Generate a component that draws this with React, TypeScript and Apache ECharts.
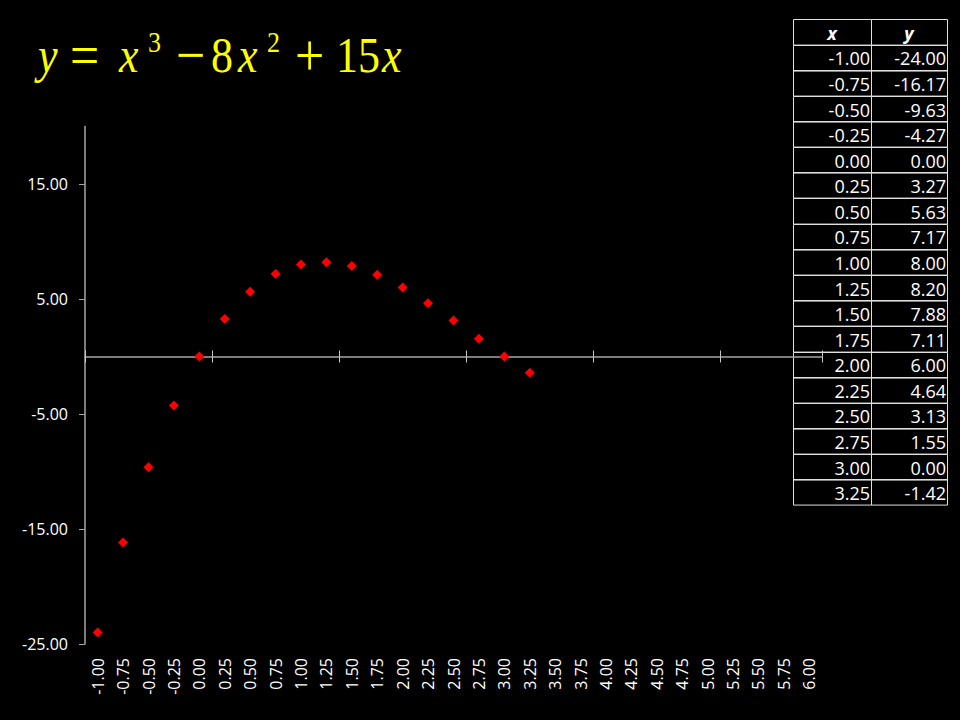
import React, { useEffect, useRef } from "react";
import * as echarts from "echarts";

const xCategories = [
  "-1.00", "-0.75", "-0.50", "-0.25", "0.00", "0.25", "0.50", "0.75", "1.00", "1.25",
  "1.50", "1.75", "2.00", "2.25", "2.50", "2.75", "3.00", "3.25", "3.50", "3.75",
  "4.00", "4.25", "4.50", "4.75", "5.00", "5.25", "5.50", "5.75", "6.00",
];
const xValues = [-1.0, -0.75, -0.5, -0.25, 0.0, 0.25, 0.5, 0.75, 1.0, 1.25, 1.5, 1.75, 2.0, 2.25, 2.5, 2.75, 3.0, 3.25];
const yValues = [-24.0, -16.17, -9.63, -4.27, 0.0, 3.27, 5.63, 7.17, 8.0, 8.2, 7.88, 7.11, 6.0, 4.64, 3.13, 1.55, 0.0, -1.42];
const yTicks = [-25, -15, -5, 5, 15];
const tableHeader = ["x", "y"];

const AXIS_COLOR = "#a6a6a6";
const TICK_COLOR = "#c8c8c8";
const TEXT_COLOR = "#ffffff";
const YELLOW = "#ffff00";

function buildTable() {
  const left = 793;
  const top = 19;
  const colW = [78, 76];
  const rowH = 25.58;
  const els: any[] = [];
  const rows = [tableHeader, ...xValues.map((x, i) => [x.toFixed(2), yValues[i].toFixed(2)])];
  rows.forEach((row, r) => {
    let cx = left;
    row.forEach((txt, c) => {
      const w = colW[c];
      const y = top + r * rowH;
      els.push({
        type: "rect",
        shape: { x: cx + 0.5, y: Math.round(y) + 0.5, width: w, height: rowH },
        style: { fill: "transparent", stroke: "#e0e0e0", lineWidth: 1 },
        silent: true,
      });
      const isHeader = r === 0;
      els.push({
        type: "text",
        x: isHeader ? cx + w / 2 : cx + w - 1,
        y: y + rowH / 2 + 1,
        style: {
          text: txt,
          fill: TEXT_COLOR,
          fontSize: 18,
          fontFamily: "Open Sans",
          fontStyle: isHeader ? "italic" : "normal",
          fontWeight: isHeader ? "bold" : "normal",
          textAlign: isHeader ? "center" : "right",
          textVerticalAlign: "middle",
        },
        silent: true,
      });
      cx += w;
    });
  });
  return els;
}

function buildTitle() {
  const base = 55;
  const fs = 44;
  const op = 52;
  const small = 26;
  const pieces: [string, number, number, number, boolean][] = [
    ["y", 38, base, fs, true],
    ["=", 70, base, op, false],
    ["x", 119, base, fs, true],
    ["3", 148, 42, small, false],
    ["\u2212", 176, base, op, false],
    ["8", 211, base, fs, false],
    ["x", 238, base, fs, true],
    ["2", 267, 42, small, false],
    ["+", 295, base, op, false],
    ["15", 336, base, fs, false],
    ["x", 382, base, fs, true],
  ];
  return pieces.map(([t, x, y, size, it]) => ({
    type: "text",
    x,
    y,
    scaleY: 1.15,
    style: {
      text: t,
      fill: YELLOW,
      fontSize: size,
      fontFamily: "Liberation Serif",
      fontStyle: it ? "italic" : "normal",
      textAlign: "left",
      textVerticalAlign: "middle",
    },
    silent: true,
  }));
}

export default function App() {
  const ref = useRef<HTMLDivElement>(null);
  useEffect(() => {
    if (!ref.current) return;
    const chart = echarts.init(ref.current, undefined, { renderer: "svg" });
    const gridRect = { left: 85, right: 138, top: 126.5, bottom: 76, containLabel: false };
    chart.setOption({
      animation: false,
      backgroundColor: "#000000",
      grid: [{ ...gridRect }, { ...gridRect }, { ...gridRect }],
      xAxis: [
        {
          type: "category",
          gridIndex: 0,
          data: xCategories,
          position: "bottom",
          boundaryGap: true,
          axisLine: { show: true, onZero: true, lineStyle: { color: AXIS_COLOR, width: 1.5 } },
          axisTick: { show: true, interval: 4, length: 6, inside: false, lineStyle: { color: TICK_COLOR } },
          axisLabel: { show: false },
          splitLine: { show: false },
        },
        {
          type: "category",
          gridIndex: 1,
          data: xCategories,
          position: "bottom",
          boundaryGap: true,
          axisLine: { show: false, onZero: false },
          axisTick: { show: false },
          axisLabel: {
            show: true,
            interval: 0,
            rotate: 90,
            margin: 14,
            color: TEXT_COLOR,
            fontSize: 16,
            fontFamily: "Open Sans",
          },
          splitLine: { show: false },
        },
        {
          type: "category",
          gridIndex: 2,
          data: xCategories,
          position: "bottom",
          boundaryGap: true,
          axisLine: { show: false, onZero: true },
          axisTick: { show: true, interval: 4, length: 6, inside: true, lineStyle: { color: TICK_COLOR } },
          axisLabel: { show: false },
          splitLine: { show: false },
        },
      ],
      yAxis: [
        {
          type: "value",
          gridIndex: 0,
          min: -25,
          max: 20,
          interval: 5,
          axisLine: { show: true, lineStyle: { color: AXIS_COLOR, width: 1.5 } },
          axisTick: { show: true, length: 6, customValues: yTicks, lineStyle: { color: AXIS_COLOR } },
          axisLabel: {
            show: true,
            customValues: yTicks,
            formatter: (v: number) => v.toFixed(2),
            color: TEXT_COLOR,
            fontSize: 16,
            fontFamily: "Open Sans",
            margin: 17,
          },
          splitLine: { show: false },
        },
        {
          type: "value",
          gridIndex: 1,
          min: -25,
          max: 20,
          interval: 5,
          axisLine: { show: false },
          axisTick: { show: false },
          axisLabel: { show: false },
          splitLine: { show: false },
        },
        {
          type: "value",
          gridIndex: 2,
          min: -25,
          max: 20,
          interval: 5,
          axisLine: { show: false },
          axisTick: { show: false },
          axisLabel: { show: false },
          splitLine: { show: false },
        },
      ],
      graphic: [...buildTitle(), ...buildTable()],
      series: [
        {
          type: "scatter",
          xAxisIndex: 0,
          yAxisIndex: 0,
          data: yValues,
          symbol: "diamond",
          symbolSize: 10,
          itemStyle: { color: "#ff0000", opacity: 1 },
          z: 5,
        },
      ],
    });
    return () => chart.dispose();
  }, []);
  return (
    <div
      ref={ref}
      style={{ position: "fixed", left: 0, top: 0, width: 960, height: 720, background: "#000" }}
    />
  );
}
